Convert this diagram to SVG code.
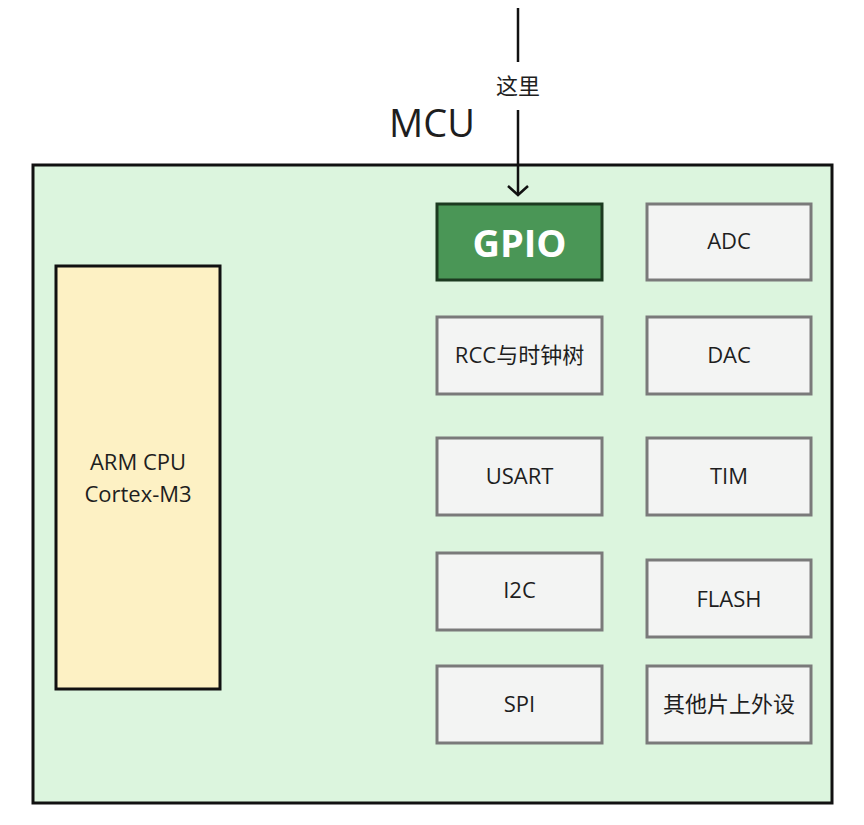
<svg xmlns="http://www.w3.org/2000/svg" width="864" height="825" viewBox="0 0 864 825">
<style>
text{font-family:"Open Sans","Noto Sans CJK SC",sans-serif;fill:#1e1e1e;text-anchor:middle}
.box{fill:#f3f4f3;stroke:#7a7a7a;stroke-width:3}
.lbl{font-size:22px}
</style>
<defs>
<marker id="arr" markerWidth="24" markerHeight="24" refX="12" refY="12" markerUnits="userSpaceOnUse" orient="auto">
<path d="M3,2 L12,12 L3,22" fill="none" stroke="#111" stroke-width="2.5"/>
</marker>
</defs>
<rect width="864" height="825" fill="#ffffff"/>
<g id="mcu">
<rect x="33" y="165" width="799" height="638" fill="#dcf5de" stroke="#111" stroke-width="3"/>
<text x="432" y="137" font-size="38">MCU</text>
</g>
<g id="cpu">
<rect x="56" y="266" width="164" height="423" fill="#fdf1c4" stroke="#111" stroke-width="3"/>
<text class="lbl" x="138" y="470">ARM CPU</text>
<text class="lbl" x="138" y="502">Cortex-M3</text>
</g>
<g id="gpio">
<rect x="437" y="204" width="165" height="76" fill="#4a9656" stroke="#1c3a20" stroke-width="3"/>
<text x="519.5" y="257" font-size="38" font-weight="bold" style="fill:#ffffff">GPIO</text>
</g>
<g id="adc"><rect class="box" x="647" y="204" width="164" height="76"/><text class="lbl" x="729" y="249">ADC</text></g>
<g id="rcc"><rect class="box" x="437" y="317" width="165" height="77"/><text class="lbl" x="519.5" y="363">RCC与时钟树</text></g>
<g id="dac"><rect class="box" x="647" y="317" width="164" height="77"/><text class="lbl" x="729" y="363">DAC</text></g>
<g id="usart"><rect class="box" x="437" y="438" width="165" height="77"/><text class="lbl" x="519.5" y="484">USART</text></g>
<g id="tim"><rect class="box" x="647" y="438" width="164" height="77"/><text class="lbl" x="729" y="484">TIM</text></g>
<g id="i2c"><rect class="box" x="437" y="553" width="165" height="77"/><text class="lbl" x="519.5" y="598">I2C</text></g>
<g id="flash"><rect class="box" x="647" y="560" width="164" height="77"/><text class="lbl" x="729" y="607">FLASH</text></g>
<g id="spi"><rect class="box" x="437" y="666" width="165" height="77"/><text class="lbl" x="519.5" y="712">SPI</text></g>
<g id="other"><rect class="box" x="647" y="666" width="164" height="77"/><text class="lbl" x="729" y="712">其他片上外设</text></g>
<g id="connectors">
<line x1="518" y1="8" x2="518" y2="62" stroke="#111" stroke-width="2.5"/>
<text x="518" y="94" font-size="22">这里</text>
<line x1="518" y1="110" x2="518" y2="195" stroke="#111" stroke-width="2.5" marker-end="url(#arr)"/>
</g>
</svg>
